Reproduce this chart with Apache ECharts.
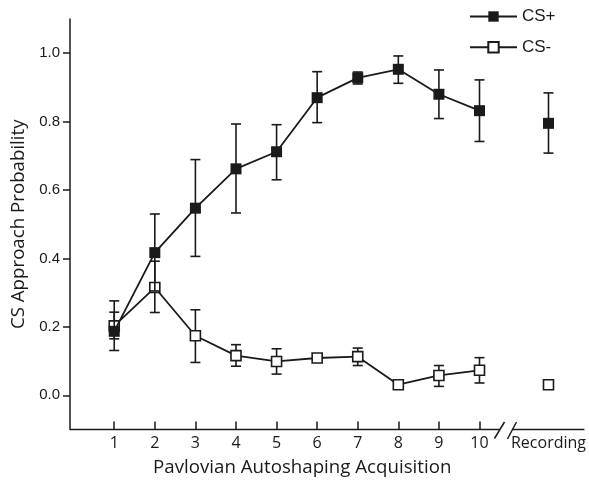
<!DOCTYPE html>
<html>
<head>
<meta charset="utf-8">
<script src="https://cdn.jsdelivr.net/npm/echarts@6/dist/echarts.min.js"></script>
<style>
html,body{margin:0;padding:0;background:#fff;}
#main{width:589px;height:482px;}
</style>
</head>
<body>
<div id="main"></div>
<script>
// ---- data ----
const sessions = [1, 2, 3, 4, 5, 6, 7, 8, 9, 10];
const sessionLabels = ['1', '2', '3', '4', '5', '6', '7', '8', '9', '10'];
const recordingX = 11.7;
const recordingLabel = 'Recording';

const csPlus     = [0.187, 0.417, 0.547, 0.662, 0.712, 0.870, 0.928, 0.953, 0.880, 0.832];
const csPlusHigh = [0.276, 0.530, 0.689, 0.793, 0.791, 0.946, 0.945, 0.992, 0.951, 0.922];
const csPlusLow  = [0.131, 0.305, 0.406, 0.533, 0.630, 0.797, 0.910, 0.912, 0.809, 0.742];
const csPlusRec = 0.795, csPlusRecHigh = 0.884, csPlusRecLow = 0.708;

const csMinus     = [0.203, 0.315, 0.174, 0.116, 0.099, 0.109, 0.113, 0.031, 0.058, 0.073];
const csMinusHigh = [0.243, 0.392, 0.250, 0.148, 0.136, 0.121, 0.138, 0.036, 0.087, 0.110];
const csMinusLow  = [0.165, 0.242, 0.096, 0.085, 0.062, 0.097, 0.087, 0.026, 0.026, 0.036];
const csMinusRec = 0.031;

const yTicks = [0, 0.2, 0.4, 0.6, 0.8, 1.0];

// ---- chart ----
const INK = '#1a1a1a';
const chart = echarts.init(document.getElementById('main'), null, {renderer: 'canvas'});

function errData(xs, lo, hi) {
  return xs.map((x, i) => [x, lo[i], hi[i]]);
}
function errSeries(data, z) {
  return {
    type: 'custom',
    z: z,
    silent: true,
    data: data,
    encode: {x: 0, y: [1, 2]},
    renderItem: function (params, api) {
      const x = api.value(0);
      const lo = api.coord([x, api.value(1)]);
      const hi = api.coord([x, api.value(2)]);
      const w = 5;
      const st = {stroke: INK, lineWidth: 1.6};
      return {
        type: 'group',
        children: [
          {type: 'line', shape: {x1: lo[0], y1: lo[1], x2: hi[0], y2: hi[1]}, style: st},
          {type: 'line', shape: {x1: lo[0] - w, y1: lo[1], x2: lo[0] + w, y2: lo[1]}, style: st},
          {type: 'line', shape: {x1: hi[0] - w, y1: hi[1], x2: hi[0] + w, y2: hi[1]}, style: st}
        ]
      };
    }
  };
}

const XMIN = -0.09, XMAX = 12.585;
const TEXT_FONT = '"Open Sans", "Noto Sans", sans-serif';
const NUM_FONT = '"Liberation Sans Narrow", "Liberation Sans", Arial, sans-serif';

const option = {
  backgroundColor: '#fff',
  animation: false,
  grid: {left: 70, right: 4, top: 19, bottom: 52},
  legend: {
    orient: 'vertical',
    left: 469,
    top: 8,
    padding: 0,
    itemWidth: 47,
    itemHeight: 13,
    itemGap: 13.7,
    data: ['CS+', 'CS-'],
    textStyle: {fontFamily: NUM_FONT, fontSize: 17, color: INK}
  },
  xAxis: {
    type: 'value',
    min: XMIN,
    max: XMAX,
    splitLine: {show: false},
    axisLine: {show: false, onZero: false},
    axisTick: {show: true, inside: true, length: 8, lineStyle: {color: INK, width: 1.5}, customValues: sessions},
    axisLabel: {
      customValues: sessions.concat([recordingX]),
      margin: 6,
      fontFamily: TEXT_FONT,
      fontSize: 16,
      color: INK,
      formatter: function (v) {
        if (Math.abs(v - recordingX) < 1e-6) return recordingLabel;
        const i = sessions.indexOf(Math.round(v));
        return i >= 0 ? sessionLabels[i] : '';
      }
    },
    name: 'Pavlovian Autoshaping Acquisition',
    nameLocation: 'middle',
    nameGap: 28.5,
    nameTextStyle: {fontFamily: TEXT_FONT, fontSize: 18.7, color: INK, padding: [0, 50, 0, 0]}
  },
  yAxis: {
    type: 'value',
    min: -0.1,
    max: 1.1,
    splitLine: {show: false},
    axisLine: {show: true, onZero: false, lineStyle: {color: INK, width: 1.5}},
    axisTick: {show: true, inside: false, length: 7, lineStyle: {color: INK, width: 1.5}, customValues: yTicks},
    axisLabel: {
      customValues: yTicks,
      margin: 10,
      fontFamily: NUM_FONT,
      fontSize: 15,
      color: INK,
      formatter: function (v) { return v.toFixed(1); }
    },
    name: 'CS Approach Probability',
    nameLocation: 'middle',
    nameGap: 40,
    nameTextStyle: {fontFamily: TEXT_FONT, fontSize: 18.7, color: INK}
  },
  series: [
    errSeries(errData(sessions, csMinusLow, csMinusHigh), 1),
    {
      name: 'CS-',
      type: 'line',
      z: 2,
      data: sessions.map((x, i) => [x, csMinus[i]]),
      symbol: 'rect',
      symbolSize: 10,
      lineStyle: {color: INK, width: 1.8},
      itemStyle: {color: '#fff', borderColor: INK, borderWidth: 1.6}
    },
    {
      name: 'CS-',
      type: 'scatter',
      z: 2,
      data: [[recordingX, csMinusRec]],
      symbol: 'rect',
      symbolSize: 10,
      itemStyle: {color: '#fff', borderColor: INK, borderWidth: 1.6, opacity: 1}
    },
    errSeries(errData(sessions.concat([recordingX]), csPlusLow.concat([csPlusRecLow]), csPlusHigh.concat([csPlusRecHigh])), 3),
    {
      name: 'CS+',
      type: 'line',
      z: 4,
      data: sessions.map((x, i) => [x, csPlus[i]]),
      symbol: 'rect',
      symbolSize: 11,
      lineStyle: {color: INK, width: 1.8},
      itemStyle: {color: INK, borderColor: INK, borderWidth: 0}
    },
    {
      name: 'CS+',
      type: 'scatter',
      z: 4,
      data: [[recordingX, csPlusRec]],
      symbol: 'rect',
      symbolSize: 11,
      itemStyle: {color: INK, opacity: 1}
    }
  ]
};
chart.setOption(option);

// broken x-axis line drawn from the axis scale
const BREAK_AT = 10.64;
function px(x, y) { return chart.convertToPixel({gridIndex: 0}, [x, y]); }
const a0 = px(XMIN, -0.1), a1 = px(XMAX, -0.1), bc = px(BREAK_AT, -0.1);
const ax = {stroke: INK, lineWidth: 1.5};
chart.setOption({
  graphic: [
    {type: 'line', z: 10, shape: {x1: a0[0], y1: a0[1], x2: bc[0] - 6, y2: a0[1]}, style: ax},
    {type: 'line', z: 10, shape: {x1: bc[0] + 6.5, y1: a0[1], x2: a1[0], y2: a0[1]}, style: ax},
    {type: 'line', z: 10, shape: {x1: bc[0] - 11, y1: a0[1] + 9, x2: bc[0] - 1, y2: a0[1] - 7.5}, style: ax},
    {type: 'line', z: 10, shape: {x1: bc[0] + 2, y1: a0[1] + 9.5, x2: bc[0] + 11, y2: a0[1] - 7.5}, style: ax}
  ]
});
</script>
</body>
</html>
